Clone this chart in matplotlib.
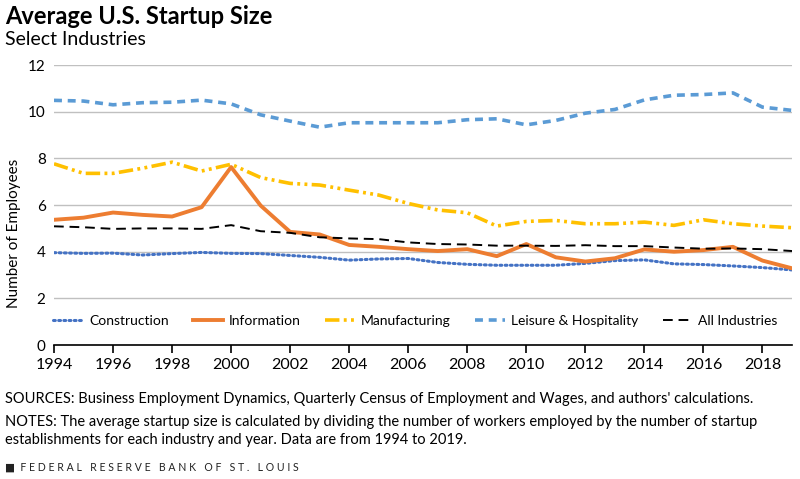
import numpy as np
import matplotlib.pyplot as plt

plt.rcParams['font.family'] = ['Lato', 'DejaVu Sans']

years = np.arange(1994, 2020)

construction = [3.96, 3.93, 3.94, 3.86, 3.92, 3.97, 3.93, 3.92, 3.84, 3.76, 3.64, 3.69, 3.71,
                3.54, 3.46, 3.42, 3.42, 3.42, 3.50, 3.62, 3.65, 3.48, 3.45, 3.39, 3.32, 3.22]
information = [5.37, 5.46, 5.68, 5.58, 5.51, 5.91, 7.63, 5.98, 4.85, 4.74, 4.29, 4.21, 4.11,
               4.03, 4.11, 3.81, 4.33, 3.76, 3.58, 3.72, 4.10, 4.00, 4.07, 4.21, 3.62, 3.29]
manufacturing = [7.77, 7.36, 7.36, 7.58, 7.84, 7.46, 7.75, 7.18, 6.93, 6.86, 6.64, 6.43, 6.07,
                 5.79, 5.67, 5.10, 5.30, 5.34, 5.20, 5.20, 5.27, 5.13, 5.37, 5.20, 5.10, 5.03]
leisure = [10.49, 10.46, 10.30, 10.39, 10.41, 10.50, 10.34, 9.87, 9.60, 9.34, 9.53, 9.53, 9.53,
           9.53, 9.66, 9.70, 9.44, 9.63, 9.94, 10.10, 10.51, 10.71, 10.74, 10.81, 10.20, 10.06]
all_ind = [5.09, 5.05, 4.98, 5.00, 5.00, 4.98, 5.14, 4.88, 4.81, 4.62, 4.57, 4.54, 4.40,
           4.33, 4.31, 4.26, 4.26, 4.25, 4.28, 4.24, 4.24, 4.18, 4.13, 4.14, 4.11, 4.03]

fig = plt.figure(figsize=(8, 4.79), dpi=100)
ax = fig.add_axes([0.0675, 0.2797, 0.9225, 0.5843])

ax.plot(years, construction, color='#4472C4', lw=2.2, ls=(0, (0.6, 1.1)),
        dash_capstyle='round', label='Construction')
ax.plot(years, information, color='#ED7D31', lw=2.8, label='Information')
ax.plot(years, manufacturing, color='#FFC000', lw=2.6, ls=(0, (4, 1.2, 0.8, 1.2, 0.8, 1.2)),
        label='Manufacturing')
ax.plot(years, leisure, color='#5B9BD5', lw=2.6, ls=(0, (2.2, 1.6)), label='Leisure & Hospitality')
ax.plot(years, all_ind, color='black', lw=1.4, ls=(0, (5, 3)), label='All Industries')

ax.set_xlim(1994, 2019)
ax.set_ylim(0, 12)
ax.set_yticks(range(0, 13, 2))
ax.set_xticks(range(1994, 2020, 2))
ax.grid(axis='y', color='#c0c0c0', lw=1)
ax.set_axisbelow(True)
for s in ['top', 'right', 'left']:
    ax.spines[s].set_visible(False)
ax.spines['bottom'].set_color('black')
ax.spines['bottom'].set_linewidth(1.2)
ax.tick_params(axis='y', length=0, labelsize=11, pad=6)
ax.tick_params(axis='x', length=6, width=1.2, direction='out', labelsize=11.5, pad=3)
ax.set_ylabel('Number of Employees', fontsize=11, labelpad=0)
ax.yaxis.set_label_coords(-0.045, 0.40)

ax.legend(loc='lower center', bbox_to_anchor=(0.49, 0.02), ncol=5, frameon=False,
          fontsize=10, handlelength=2.15, columnspacing=1.75, handletextpad=0.43)

fig.text(0.006, 0.965, 'Average U.S. Startup Size', fontsize=17, fontweight='bold', va='center')
fig.text(0.006, 0.918, 'Select Industries', fontsize=14, va='center')

fs = 10.55
fig.text(0.006, 0.168, 'SOURCES: Business Employment Dynamics, Quarterly Census of Employment and Wages, '
         "and authors' calculations.", fontsize=fs, va='center')
fig.text(0.006, 0.118, 'NOTES: The average startup size is calculated by dividing the number of workers '
         'employed by the number of startup', fontsize=fs, va='center')
fig.text(0.006, 0.081, 'establishments for each industry and year. Data are from 1994 to 2019.',
         fontsize=fs, va='center')
fig.text(0.006, 0.025, '■  F E D E R A L   R E S E R V E   B A N K   O F   S T .   L O U I S',
         fontsize=7.6, va='center', color='#222222')

fig.savefig('out.png', dpi=100)
